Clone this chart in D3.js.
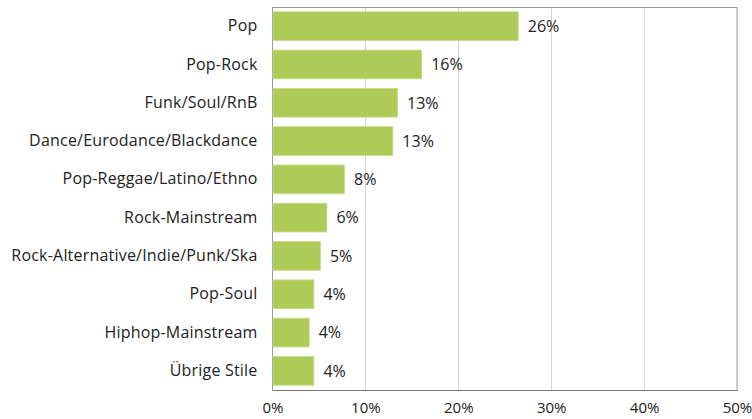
<!DOCTYPE html>
<html><head><meta charset="utf-8">
<script src="https://cdn.jsdelivr.net/npm/d3@7"></script>
<style>body{margin:0;background:#fff}svg{display:block}</style>
</head><body>
<svg id="c" width="752" height="419"></svg>
<script>
const categories = ["Pop","Pop-Rock","Funk/Soul/RnB","Dance/Eurodance/Blackdance","Pop-Reggae/Latino/Ethno","Rock-Mainstream","Rock-Alternative/Indie/Punk/Ska","Pop-Soul","Hiphop-Mainstream","Übrige Stile"];
const values = [26.4,16.0,13.4,12.9,7.7,5.8,5.1,4.4,3.9,4.4];
const xTicks = [0,10,20,30,40,50];

const svg = d3.select("#c");
const m = {left:272.5, right:737, top:7, bottom:390};
const font = "'Open Sans', 'Noto Sans', sans-serif";
const x = d3.scaleLinear().domain([0,50]).range([m.left,m.right]);
const y = d3.scaleBand().domain(categories).range([m.top,m.bottom]).paddingInner(0.25).paddingOuter(0.125);

svg.append("g").selectAll("line").data(xTicks.slice(1,-1)).join("line")
  .attr("x1",d=>Math.round(x(d))+0.5).attr("x2",d=>Math.round(x(d))+0.5)
  .attr("y1",m.top).attr("y2",m.bottom).attr("stroke","#d4d4d4").attr("stroke-width",1);

svg.append("rect").attr("x",m.left).attr("y",m.top+0.5).attr("width",m.right-m.left).attr("height",m.bottom-m.top)
  .attr("fill","none").attr("stroke","#9a9a9a").attr("stroke-width",1);

const data = categories.map((c,i)=>({c,v:values[i]}));
svg.append("g").selectAll("rect").data(data).join("rect")
  .attr("x",x(0)+0.5).attr("y",d=>y(d.c)).attr("width",d=>x(d.v)-x(0)).attr("height",y.bandwidth())
  .attr("fill","#afcb57").attr("stroke","#c6db8a").attr("stroke-width",0.8);

svg.append("g").selectAll("text").data(data).join("text")
  .attr("x",d=>x(d.v)+10).attr("y",d=>y(d.c)+y.bandwidth()/2).attr("dy","0.36em")
  .attr("font-family",font).attr("font-size",16).attr("fill","#222")
  .text(d=>Math.round(d.v)+"%");

const ya = d3.axisLeft(y).tickSize(0).tickPadding(15);
const gy = svg.append("g").attr("transform",`translate(${m.left},0)`).call(ya);
gy.select(".domain").remove();
gy.selectAll("text").attr("font-family",font).attr("font-size",16).attr("letter-spacing",0.2).attr("fill","#222");

const xa = d3.axisBottom(x).tickValues(xTicks).tickSize(0).tickPadding(12).tickFormat(d=>d+"%");
const gx = svg.append("g").attr("transform",`translate(0,${m.bottom})`).call(xa);
gx.select(".domain").attr("stroke","#777");
gx.selectAll("text").attr("font-family",font).attr("font-size",15).attr("fill","#222");
</script>
</body></html>
